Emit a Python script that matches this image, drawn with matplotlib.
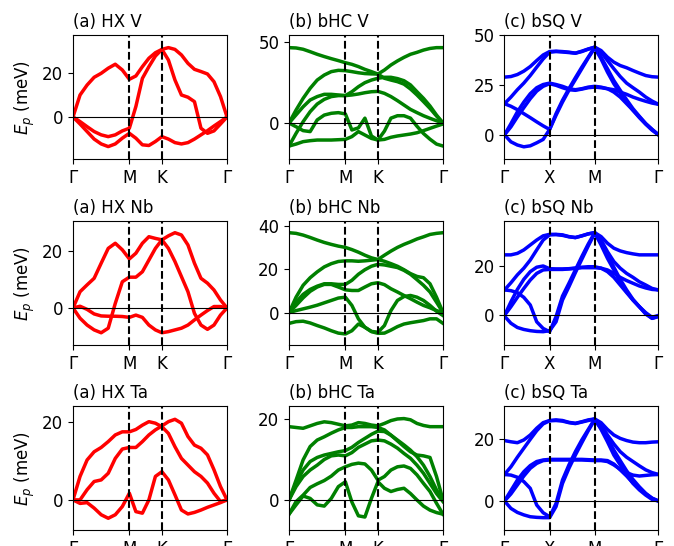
import numpy as np
import matplotlib.pyplot as plt

# high-symmetry paths
hex_labels = ['Γ', 'M', 'K', 'Γ']
sq_labels = ['Γ', 'X', 'M', 'Γ']
hex_seg = [1 / np.sqrt(3), 1 / 3, 2 / 3]
sq_seg = [0.5, 0.5, np.sqrt(2) / 2]
hex_npts = [8, 5, 10]
sq_npts = [7, 7, 10]

# phonon energies (meV) read along the path, one list per band
hx_v = [
    [0, 9.9, 14.4, 17.9, 19.7, 22, 23.8, 21.2, 17,
     18.5, 22.7, 26.5, 29, 30.5,
     31.3, 30.5, 28, 24.2, 21.5, 20.5, 19.4, 15.9, 9.2, 0],
    [0, -2.1, -4.4, -6.6, -8.1, -8.9, -8.1, -6.3, -5.1,
     4.7, 17.4, 22.7, 27.5, 30.5,
     25.7, 16.7, 9.9, 8.9, 6.9, -5.1, -7.4, -6.3, -3.2, 0],
    [0, -3.2, -6.6, -10, -12.2, -13.4, -12.2, -9.6, -7.4,
     -9.6, -12.6, -12.9, -11.1, -8.9,
     -10, -11.6, -12.2, -11.6, -10, -8.1, -6.2, -4.1, -2.1, 0],
]
hx_nb = [
    [0, 5.7, 8.1, 10.4, 15.7, 20.9, 22.7, 20.4, 17.2,
     19.2, 22.7, 25, 24.4, 23.9,
     20.9, 16.3, 11, 5.7, -1.9, -6, -7.5, -6, -2.5, 0],
    [0, -3.6, -6, -7.7, -8.7, -7.1, 1.6, 9.2, 10.8,
     10.8, 12.7, 16.8, 20.9, 23.9,
     25.3, 26.4, 25.6, 22.1, 15.7, 10.4, 8.7, 6.3, 2.8, 0],
    [0, 0.6, -0.5, -2.1, -2.8, -2.9, -2.9, -3, -3.3,
     -2.5, -3.3, -6, -7.7, -8.7,
     -8.3, -7.7, -7.1, -6, -4.2, -2.5, -0.9, 0.5, 0.5, 0],
]
hx_ta = [
    [0, 6, 10.2, 12.3, 13.4, 14.9, 16.6, 17.4, 17.4,
     18, 19.1, 20, 19.6, 18.7,
     17, 13.6, 10.6, 8.9, 7.2, 6, 4.3, 1.7, -0.4, 0],
    [0, 0, 2.6, 4.7, 5.1, 6.8, 10.6, 13, 13.4,
     13.4, 14.9, 16.6, 17.9, 18.9,
     20, 20.6, 19.6, 16.2, 14, 13.2, 11.5, 7.7, 3.4, 0],
    [0, -0.9, -0.7, -2.1, -3.8, -4.7, -3.8, -1.7, 1.7,
     -3, -3.4, 0, 6, 7.2,
     5.1, 1.3, -2.6, -3.6, -3.2, -2.6, -1.9, -1.3, -0.7, 0],
]

bhc_v = [
    [46.5, 46.3, 45.5, 44, 42.4, 41, 39.7, 38.5, 37.2,
     36.2, 34.8, 33.1, 31.7, 30.2,
     32.7, 35.8, 38.3, 40.5, 42.4, 43.6, 45, 46, 46.5, 46.5],
    [0, 8, 15.2, 21.4, 26.5, 29.6, 31.7, 32.5, 32.3,
     31.7, 31, 30.5, 30.3, 30.2,
     27.6, 26.5, 25.5, 24, 21, 17.3, 13.2, 9, 4.3, 0],
    [0, 5, 10, 14.2, 16.3, 17.7, 17.7, 17.3, 16.9,
     19.3, 22.4, 24.9, 26.5, 27.6,
     28.2, 28.2, 27.4, 26.1, 23.5, 19.3, 15.2, 10.5, 4.9, 0],
    [-14.2, -6.4, 0.8, 7, 11.7, 14.6, 16.3, 16.9, 16.9,
     17.3, 17.9, 18.7, 19.3, 19.5,
     18.3, 16.3, 13.8, 11.1, 8.4, 6.4, 4.5, 2.9, 1.4, 0],
    [0, -2.3, -4.7, -5.3, 1.9, 4.9, 6, 6.4, 5.6,
     -4.3, -3, 3, -8, -10.5,
     -5, 3, 4.5, 4.5, 3, -2, -6.5, -10, -13, -14.2],
    [-14.2, -13, -11.5, -10.9, -10.5, -10.5, -10.5, -10.3, -10.1,
     -8.4, -5.3, -7.4, -9.5, -10.5,
     -10.1, -8.8, -8, -7.4, -6.8, -6, -4.7, -3.3, -1.9, -0.6],
]
bhc_nb = [
    [36.9, 36.6, 35.8, 34.7, 33.5, 32.4, 31.5, 30.7, 30.1,
     29.1, 27.9, 26.5, 25.3, 24.5,
     26.5, 28.4, 30.1, 31.5, 32.7, 34, 35, 36.1, 36.6, 36.9],
    [0, 7.1, 12.6, 16.1, 18.8, 21.1, 22.6, 23.6, 23.9,
     23.9, 23.7, 23.9, 24.2, 24.5,
     23.7, 22.6, 21.4, 19.8, 18, 16.7, 16.1, 13.3, 7.1, 0],
    [0, 4.8, 8.4, 10.7, 12.2, 13.3, 13.3, 13, 13,
     14.9, 17.7, 19.8, 21.4, 22.3,
     22, 21.4, 20.8, 19.5, 17.7, 15.2, 12.6, 9.5, 4.8, 0],
    [0, 3.3, 6.8, 9.8, 11.8, 13, 13, 11.8, 10.5,
     10.2, 10.2, 11.8, 13.3, 13.8,
     12.9, 11, 9.5, 7.9, 6.4, 4.8, 3.3, 2.2, 0.9, 0],
    [0, 0.9, 1.7, 2.5, 3.4, 4.5, 5.6, 6.7, 7.1,
     3.3, -2.9, -6.8, -8.7, -9.1,
     -6, 0.9, 5.6, 7.4, 7.9, 7.1, 5.6, 3.3, 0.6, -1.4],
    [-5, -4.2, -4, -4.8, -6, -7.1, -8.4, -9.5, -9.9,
     -8.4, -5.3, -6.8, -8.8, -9.6,
     -9.5, -8.1, -6.5, -5.3, -4.7, -4.2, -3.7, -2.9, -2.9, -5],
]
bhc_ta = [
    [18.1, 17.9, 17.7, 18.3, 18.9, 19.3, 19.1, 18.7, 18.3,
     18.5, 19.1, 18.9, 18.5, 18.3,
     18.9, 19.6, 20, 20.1, 19.8, 18.9, 18.4, 18.1, 18.1, 18.1],
    [0, 4.9, 9.9, 13.2, 14.8, 15.6, 16.5, 17.3, 17.9,
     17.9, 18.1, 18.1, 18.1, 17.9,
     17.3, 16, 14.8, 13.6, 12.3, 10.7, 8.6, 5.8, 2.5, 0],
    [0, 4.1, 7.4, 9.5, 10.5, 11.1, 11.5, 11.9, 12.2,
     13, 14.2, 15.2, 16.2, 17,
     16.9, 16, 14.6, 13.2, 11.9, 11.1, 10.9, 10.5, 5.8, 0],
    [0, 3.3, 5.8, 7.4, 8.6, 10, 10.9, 11.1, 10.9,
     11.7, 13, 13.8, 14.6, 14.8,
     14.6, 13.8, 12.8, 11.5, 10.3, 8.6, 6.6, 4.1, 1.6, -0.4],
    [-3.5, -0.4, 1.2, 3.1, 4, 4.8, 5.9, 7.4, 8.2,
     8.8, 9.1, 8.9, 7.4, 4.9,
     5.8, 7.4, 8.2, 8.4, 7.8, 6.2, 4.1, 2.1, -0.8, -3.5],
    [-3.5, -1.2, 1, 0.4, -1.2, -1.5, 0.4, 3.3, 4.5,
     -0.5, -3.9, -4.2, 0.4, 4.5,
     2.9, 2.1, 2.6, 2.9, 1.6, 0, -1.5, -2.5, -3.1, -3.5],
]

bsq_v = [
    [28.9, 29.2, 30.2, 31.9, 34.2, 37.2, 40, 41.7,
     41.9, 41.7, 41.4, 40.9, 41.9, 43, 43.9,
     42.2, 38.9, 36.4, 34.7, 33.6, 32.2, 30.9, 29.7, 29.1, 28.9],
    [15.6, 18.9, 22.6, 25.9, 29.7, 33.9, 38, 41.4,
     41.7, 41.5, 41.2, 40.9, 41.7, 42.9, 43.9,
     41.4, 37.2, 33.1, 29.2, 25.9, 23.6, 21.4, 18.9, 16.9, 15.3],
    [0, 5.6, 11.5, 16.4, 20.6, 23.6, 25.2, 25.9,
     25.2, 24.3, 23.1, 22.6, 23.1, 23.9, 24.3,
     23.9, 23.1, 21.4, 18.9, 15.6, 12.3, 9, 5.6, 2.7, 0],
    [0, 4, 9, 13.6, 18.1, 21.9, 24.3, 25.6,
     24.8, 23.6, 22.6, 22.3, 22.9, 23.6, 23.9,
     23.6, 23.1, 22.6, 21.4, 20.3, 18.9, 17.8, 16.8, 15.9, 15.3],
    [15.6, 14.3, 12.6, 10.6, 8.6, 6.5, 4.5, 2.7,
     10.6, 17.3, 23.1, 28.6, 33.9, 38.9, 43.9,
     38.9, 33.1, 27.2, 22.3, 17.6, 13.1, 9.3, 5.6, 2.7, 0],
    [0, -3.5, -5.1, -6, -5.5, -4, -2.3, 2.7,
     9.8, 16.4, 22.3, 27.7, 33.1, 38.5, 43.5,
     38, 31.4, 25.6, 20.9, 16.4, 12.3, 8.6, 5.3, 2.3, 0],
]
bsq_nb = [
    [24.5, 24.5, 25.1, 26.5, 28.5, 30.5, 32.2, 32.8,
     32.8, 32.6, 31.9, 31.5, 32.2, 33, 33.5,
     31.9, 29.2, 27.2, 26.1, 25.4, 24.9, 24.5, 24.5, 24.5, 24.5],
    [10.3, 13.2, 16.4, 19.1, 22.4, 26.5, 30.5, 32.6,
     32.7, 32.4, 31.8, 31.5, 32.2, 33, 33.5,
     30.5, 25.8, 21.8, 19.1, 17, 15.4, 13.6, 12.3, 10.9, 10.3],
    [0, 5.5, 10.5, 14.6, 17.7, 19.5, 20, 18.9,
     18.8, 18.8, 18.9, 19.2, 19.5, 19.7, 19.7,
     19.1, 17.7, 15.4, 12.3, 9.2, 6.2, 3.5, 0.8, -1.2, -0.3],
    [0, 3.5, 7.3, 10.9, 14.3, 17, 18.4, 18.6,
     18.6, 18.6, 18.8, 19, 19.3, 19.3, 19.3,
     19.1, 18.4, 17, 15.4, 14.1, 13, 11.9, 11.1, 10.5, 10.3],
    [10.3, 10, 9.2, 7.3, 4.2, -2.6, -5.3, -6.6,
     -0.5, 7.8, 13, 18.4, 23.8, 28.9, 33.5,
     28.5, 23.1, 18.4, 13.6, 9.6, 6.2, 3.5, 1.1, -0.8, 0],
    [-0.3, -3.2, -4.9, -5.7, -6.2, -6.5, -6.6, -6.2,
     -2.6, 6.2, 11.6, 17.3, 22.7, 28.1, 33.2,
     29.2, 24.5, 19.5, 14.6, 10.3, 6.5, 3.5, 0.5, -1.2, -0.5],
]
bsq_ta = [
    [19.6, 19.2, 18.9, 19.8, 21.4, 23.6, 25.4, 26.1,
     26.3, 26.1, 25.5, 25.2, 25.7, 26.3, 26.6,
     25.4, 23.2, 21.4, 20.3, 19.6, 19.1, 18.9, 18.9, 19.1, 19.2],
    [8.6, 11.1, 14.2, 17.1, 20, 22.8, 25, 26,
     26.1, 25.9, 25.4, 25.1, 25.6, 26.1, 26.6,
     24.6, 21.4, 18.5, 16, 14.2, 12.8, 11.4, 10.1, 9.2, 8.6],
    [0, 3.4, 6.8, 9.5, 11.5, 12.8, 13.3, 13.5,
     13.5, 13.5, 13.5, 13.5, 13.5, 13.4, 13.3,
     13.3, 13.1, 12, 10.1, 8.1, 5.9, 4.1, 2.3, 0.9, 0],
    [0, 2.3, 5.2, 8.1, 10.6, 12.2, 13.1, 13.3,
     13.3, 13.3, 13.3, 13.3, 13.3, 13.2, 13.1,
     13.1, 12.8, 11.7, 10.3, 9.2, 8.4, 8.1, 8.3, 8.5, 8.6],
    [8.6, 8.4, 7.7, 6.3, 4.1, -1.3, -3.8, -5.1,
     -0.8, 6.8, 11.7, 16, 19.8, 23.2, 26.6,
     23.2, 19.2, 14.9, 11.7, 8.4, 5.7, 3.6, 1.9, 0.5, 0],
    [0, -2.4, -3.7, -4.5, -5.1, -5.3, -5.4, -5.4,
     -1.8, 5.7, 10.6, 14.9, 18.9, 22.8, 26.3,
     23.6, 20.3, 16.5, 13.1, 9.8, 7, 4.6, 2.5, 0.9, 0],
]

titles = [['(a) HX V', '(b) bHC V', '(c) bSQ V'],
          ['(a) HX Nb', '(b) bHC Nb', '(c) bSQ Nb'],
          ['(a) HX Ta', '(b) bHC Ta', '(c) bSQ Ta']]
bands = [[hx_v, bhc_v, bsq_v],
         [hx_nb, bhc_nb, bsq_nb],
         [hx_ta, bhc_ta, bsq_ta]]
ylims = [[(-19, 37), (-22.2, 54.3), (-12.1, 50)],
         [(-13, 30.5), (-15, 42.3), (-12, 38.2)],
         [(-7.7, 24), (-7.4, 23.2), (-9.4, 30.8)]]
yticks = [[[0, 20], [0, 50], [0, 25, 50]],
          [[0, 20], [0, 20, 40], [0, 20]],
          [[0, 20], [0, 20], [0, 20]]]
colors = ['red', 'green', 'blue']


def kpath(seg, npts):
    ticks = np.concatenate([[0], np.cumsum(seg)])
    k = [0.0]
    for a, b, n in zip(ticks[:-1], ticks[1:], npts):
        k.extend(np.linspace(a, b, n + 1)[1:])
    return np.array(k), ticks


plt.rcParams['font.size'] = 12
fig = plt.figure(figsize=(6.74, 5.46), dpi=100)

lefts = [0.1083, 0.4288, 0.7485]
bottoms = [0.7088, 0.3681, 0.0293]
w, h = 0.2285, 0.2271

for r in range(3):
    for c in range(3):
        ax = fig.add_axes([lefts[c], bottoms[r], w, h])
        if c == 2:
            k, ticks = kpath(sq_seg, sq_npts)
            labels = sq_labels
        else:
            k, ticks = kpath(hex_seg, hex_npts)
            labels = hex_labels
        for band in bands[r][c]:
            ax.plot(k, band, color=colors[c], lw=2.5)
        ax.axhline(0, color='k', lw=0.8)
        for t in ticks[1:-1]:
            ax.axvline(t, color='k', ls='--', lw=1.5)
        ax.set_xlim(ticks[0], ticks[-1])
        ax.set_xticks(ticks)
        ax.set_xticklabels(labels)
        ax.set_ylim(*ylims[r][c])
        ax.set_yticks(yticks[r][c])
        ax.set_title(titles[r][c], loc='left', fontsize=12)
        if c == 0:
            ax.set_ylabel('$E_p$ (meV)')

fig.savefig('out.png', dpi=100)
